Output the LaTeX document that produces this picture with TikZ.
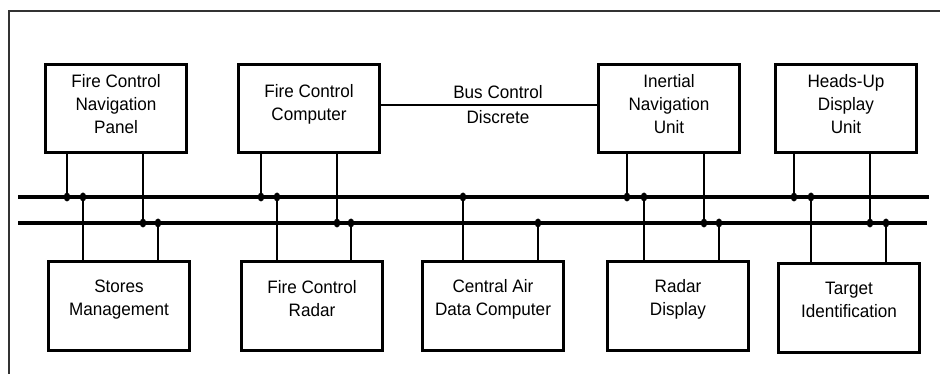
\documentclass[tikz,border=0pt]{standalone}
\usepackage{fontspec}
\setmainfont{Liberation Sans}[FakeStretch=0.95]
\begin{document}
\begin{tikzpicture}[x=1pt,y=-1pt,
  box/.style={draw,line width=3pt,minimum width=141pt,minimum height=88pt,inner sep=0pt},
  txt/.style={align=center,inner sep=0pt,anchor=north,font=\fontsize{18}{23}\selectfont},
  wire/.style={line width=1.4pt},
  bus/.style={line width=3.6pt},
  jdot/.style={fill=black},
  frame/.style={draw=black!80,line width=1.8pt}]
\useasboundingbox (0,0) rectangle (940,374);
% frame
\draw[frame] (9,374) -- (9,11) -- (940,11);
% top boxes
\node[box] (fcnp) at (116,108.5) {};
\node[box] (fcc)  at (309,108.5) {};
\node[box] (inu)  at (669,108.5) {};
\node[box] (hud)  at (846,108.5) {};
% bottom boxes
\node[box] (sm)   at (119,306) {};
\node[box] (fcr)  at (312,306) {};
\node[box] (cadc) at (493,306) {};
\node[box] (rd)   at (678,306) {};
\node[box] (tid)  at (849,308) {};
% texts
\node[txt] (fcnpT) at (116,74) {Fire Control\\Navigation\\Panel};
\node[txt] (fccT)  at (309,84) {Fire Control\\Computer};
\node[txt] (inuT)  at (669,74) {Inertial\\Navigation\\Unit};
\node[txt] (hudT)  at (846,74) {Heads-Up\\Display\\Unit};
\node[txt] (smT)   at (119,280) {Stores\\Management};
\node[txt] (fcrT)  at (312,280) {Fire Control\\Radar};
\node[txt] (cadcT) at (493,279) {Central Air\\Data Computer};
\node[txt] (rdT)   at (678,279) {Radar\\Display};
\node[txt] (tidT)  at (849,282) {Target\\Identification};
% bus control discrete
\draw[wire] ([yshift=3.5pt]fcc.east) -- ([yshift=3.5pt]inu.west);
\node[txt] (bcd1) at (498,85) {Bus Control};
\node[txt] (bcd2) at (498,110) {Discrete};
% buses
\coordinate (busAL) at (18,197);
\coordinate (busAR) at (929,197);
\coordinate (busBL) at (18,223);
\coordinate (busBR) at (927,223);
\draw[bus] (busAL) -- (busAR);
\draw[bus] (busBL) -- (busBR);
% junctions: top boxes
\coordinate (j1) at (67,197);  \coordinate (j2) at (143,223);
\coordinate (j3) at (261,197); \coordinate (j4) at (337,223);
\coordinate (j5) at (627,197); \coordinate (j6) at (704,223);
\coordinate (j7) at (794,197); \coordinate (j8) at (870,223);
\draw[wire] (j1 |- fcnp.south) -- (j1);
\draw[wire] (j2 |- fcnp.south) -- (j2);
\draw[wire] (j3 |- fcc.south) -- (j3);
\draw[wire] (j4 |- fcc.south) -- (j4);
\draw[wire] (j5 |- inu.south) -- (j5);
\draw[wire] (j6 |- inu.south) -- (j6);
\draw[wire] (j7 |- hud.south) -- (j7);
\draw[wire] (j8 |- hud.south) -- (j8);
% junctions: bottom boxes
\coordinate (k1) at (83,197);  \coordinate (k2) at (158,223);
\coordinate (k3) at (277,197); \coordinate (k4) at (351,223);
\coordinate (k5) at (463,197); \coordinate (k6) at (538,223);
\coordinate (k7) at (644,197); \coordinate (k8) at (719,223);
\coordinate (k9) at (811,197); \coordinate (k10) at (886,223);
\draw[wire] (k1 |- sm.north) -- (k1);
\draw[wire] (k2 |- sm.north) -- (k2);
\draw[wire] (k3 |- fcr.north) -- (k3);
\draw[wire] (k4 |- fcr.north) -- (k4);
\draw[wire] (k5 |- cadc.north) -- (k5);
\draw[wire] (k6 |- cadc.north) -- (k6);
\draw[wire] (k7 |- rd.north) -- (k7);
\draw[wire] (k8 |- rd.north) -- (k8);
\draw[wire] (k9 |- tid.north) -- (k9);
\draw[wire] (k10 |- tid.north) -- (k10);
% dots
\foreach \p in {j1,j2,j3,j4,j5,j6,j7,j8,k1,k2,k3,k4,k5,k6,k7,k8,k9,k10}
  \fill[jdot] (\p) ellipse [x radius=3.2pt, y radius=4.5pt];
\end{tikzpicture}
\end{document}
